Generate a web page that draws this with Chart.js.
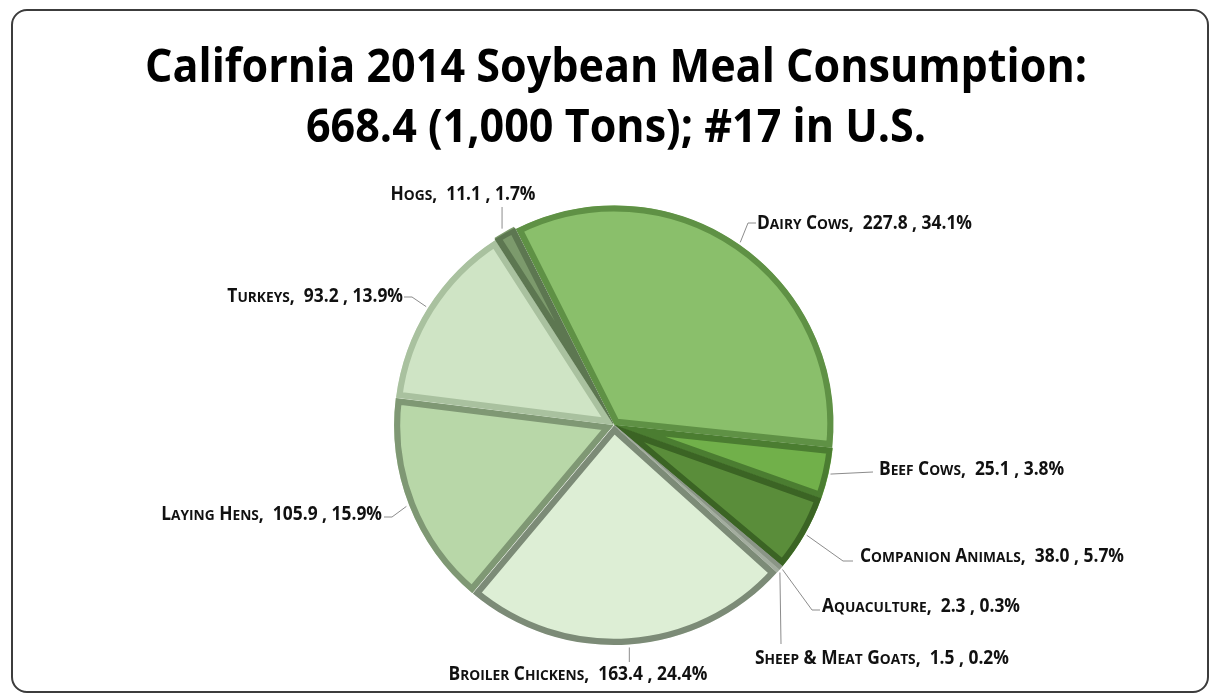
<!DOCTYPE html>
<html><head><meta charset="utf-8">
<script src="https://cdn.jsdelivr.net/npm/chart.js@4.4.1/dist/chart.umd.min.js"></script>
<style>html,body{margin:0;padding:0;background:#fff;}#wrap{width:1211px;height:696px;position:relative;}</style>
</head><body><div id="wrap"><canvas id="c" width="1211" height="696"></canvas></div>
<script>
// ---- data ----
const categories = ['Dairy Cows','Beef Cows','Companion Animals','Aquaculture','Sheep & Meat Goats','Broiler Chickens','Laying Hens','Turkeys','Hogs'];
const consumption = [227.8, 25.1, 38.0, 2.3, 1.5, 163.4, 105.9, 93.2, 11.1];
const shares = ['34.1%','3.8%','5.7%','0.3%','0.2%','24.4%','15.9%','13.9%','1.7%'];
const titleLines = ['California 2014 Soybean Meal Consumption:', '668.4 (1,000 Tons); #17 in U.S.'];

// ---- styles ----
const fills   = ['#8abf6b','#71b04a','#5a8d3a','#aab5a5','#c9d2c5','#ddeed5','#b8d7a8','#cfe4c5','#7c9a6c'];
const borders = ['#5f9145','#4b7d31','#3b6424','#8a9586','#a3ad9f','#7c8b77','#7f9874','#a9c19f','#5d7751'];
const offsets = [3,3,3,3,3,4,4,3,7];
// label layout: anchor mode, x, y (mid-line), elbow points
const labelLayout = [
  {align:'left',   x:757, y:222, pts:[[748,223],[756,223]]},
  {align:'left',   x:879, y:468, pts:[[873,472]]},
  {align:'left',   x:860, y:555, pts:[[843,561],[853,561]]},
  {align:'left',   x:822, y:605, pts:[[812,610],[820,610]]},
  {align:'left',   x:755, y:657, pts:[[781,644]]},
  {align:'center', x:578, y:673, pts:[[null,662]]},
  {align:'right',  x:382, y:513, pts:[[392,517],[384,517]]},
  {align:'right',  x:403, y:295, pts:[[412,297],[404,297]]},
  {align:'center', x:463, y:193, pts:[[null,207]]}
];
const FONT = '"Open Sans", "DejaVu Sans", sans-serif';

function labelSegments(i){
  const segs = [];
  for (const ch of categories[i]) {
    if (/[a-z]/.test(ch)) segs.push({t: ch.toUpperCase(), s: 15});
    else segs.push({t: ch, s: 19});
  }
  segs.push({t: ',  ' + consumption[i].toFixed(1) + ' , ' + shares[i], s: 19});
  return segs;
}
function segWidth(ctx, segs){
  let w = 0;
  for (const sg of segs){ ctx.font = '700 ' + sg.s + 'px ' + FONT; w += ctx.measureText(sg.t).width; }
  return w;
}

const deco = {
  id: 'deco',
  beforeDraw(chart){
    const ctx = chart.ctx;
    ctx.save();
    ctx.fillStyle = '#fff';
    ctx.fillRect(0,0,chart.width,chart.height);
    ctx.beginPath();
    ctx.roundRect(12, 10, 1196, 682, 15);
    ctx.lineWidth = 2;
    ctx.strokeStyle = '#3c3c3c';
    ctx.stroke();
    // title
    ctx.fillStyle = '#000';
    ctx.textBaseline = 'alphabetic';
    ctx.font = '700 47px ' + FONT;
    const w0 = ctx.measureText(titleLines[0]).width;
    const sx = 942 / w0;
    const baselines = [82, 142];
    titleLines.forEach((ln, k) => {
      const w = ctx.measureText(ln).width * sx;
      ctx.save();
      ctx.translate(616 - w/2, baselines[k]);
      ctx.scale(sx, 1);
      ctx.fillText(ln, 0, 0);
      ctx.restore();
    });
    ctx.restore();
  },
  afterDraw(chart){
    const ctx = chart.ctx;
    const meta = chart.getDatasetMeta(0);
    ctx.save();
    const dairyW = segWidth(ctx, labelSegments(0));
    const sx = 215 / dairyW;
    meta.data.forEach((arc, i) => {
      const L = labelLayout[i];
      const mid = (arc.startAngle + arc.endAngle) / 2;
      const off = arc.options.offset || 0;
      const r = arc.outerRadius + off;
      const sx0 = arc.x + Math.cos(mid) * r;
      const sy0 = arc.y + Math.sin(mid) * r;
      ctx.beginPath();
      ctx.moveTo(sx0, sy0);
      L.pts.forEach(p => ctx.lineTo(p[0] === null ? sx0 : p[0], p[1]));
      ctx.strokeStyle = '#8c8c8c';
      ctx.lineWidth = 1;
      ctx.stroke();
      // text
      const segs = labelSegments(i);
      const w = segWidth(ctx, segs) * sx;
      let left = L.x;
      if (L.align === 'right') left = L.x - w;
      if (L.align === 'center') left = L.x - w/2;
      ctx.save();
      ctx.translate(left, L.y + 7);
      ctx.scale(sx, 1);
      ctx.fillStyle = '#111';
      ctx.textBaseline = 'alphabetic';
      let cx = 0;
      for (const sg of segs){
        ctx.font = '700 ' + sg.s + 'px ' + FONT;
        ctx.fillText(sg.t, cx, 0);
        cx += ctx.measureText(sg.t).width;
      }
      ctx.restore();
    });
    ctx.restore();
  }
};

new Chart(document.getElementById('c'), {
  type: 'pie',
  data: {
    labels: categories,
    datasets: [{
      data: consumption,
      backgroundColor: fills,
      borderColor: borders,
      borderWidth: 6,
      borderAlign: 'inner',
      offset: offsets,
      radius: 219
    }]
  },
  options: {
    responsive: false,
    animation: false,
    rotation: -26.7,
    layout: { padding: { left: 364, right: 347, top: 175, bottom: 21 } },
    plugins: { legend: { display: false }, tooltip: { enabled: false }, title: { display: false } }
  },
  plugins: [deco]
});
</script>
</body></html>
